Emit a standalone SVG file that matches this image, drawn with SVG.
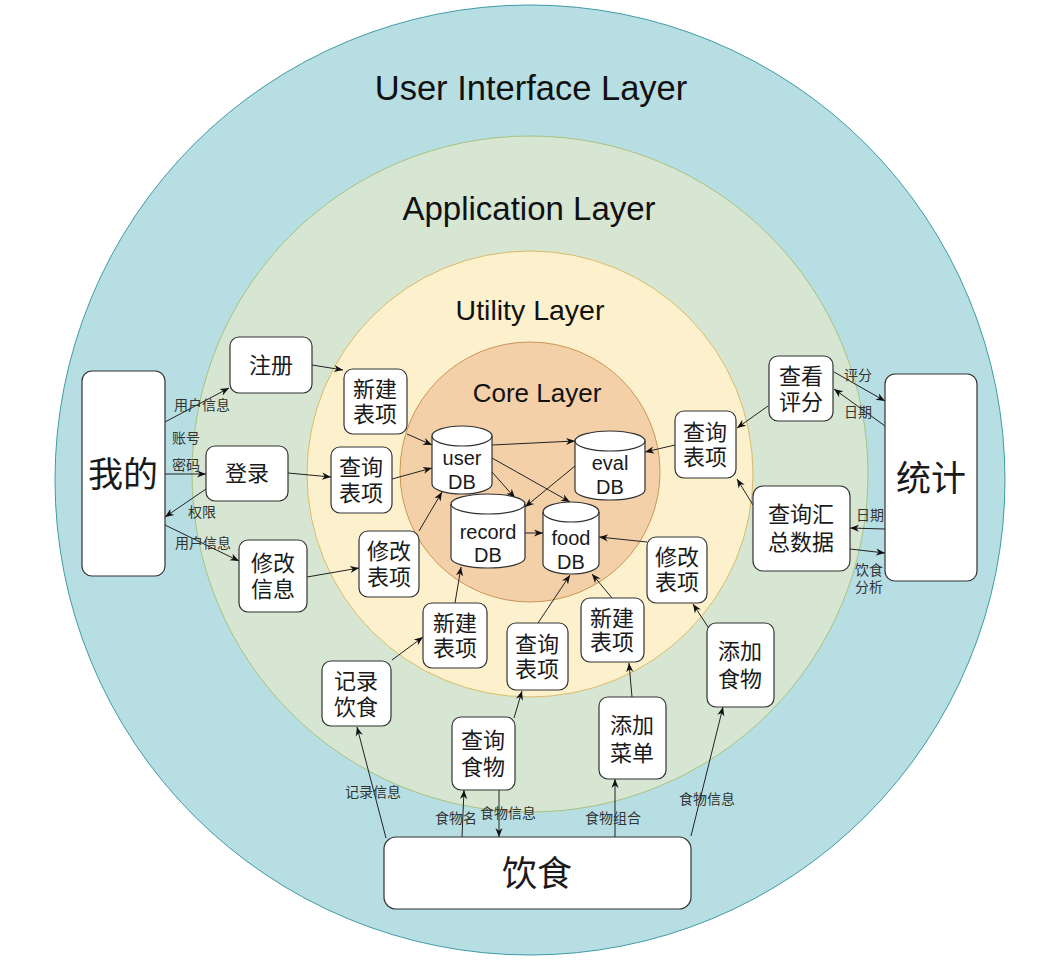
<svg xmlns="http://www.w3.org/2000/svg" width="1048" height="972" viewBox="0 0 1048 972">
<style>
.n{fill:#fff;stroke:#333;stroke-width:1.2}
.a{fill:none;stroke:#333;stroke-width:1.2}
.t{font-family:"Liberation Sans","Noto Sans CJK SC",sans-serif;font-size:22px;fill:#1a1a1a;text-anchor:middle;dominant-baseline:central}
.big{font-size:35px}
.db{font-family:"Liberation Sans",sans-serif;font-size:20px;fill:#1a1a1a;text-anchor:middle;dominant-baseline:central}
.lay{font-family:"Liberation Sans",sans-serif;fill:#111;text-anchor:middle}
.lb{font-family:"Liberation Sans","Noto Sans CJK SC",sans-serif;font-size:14px;fill:#333;text-anchor:middle;dominant-baseline:central}
.c line{stroke:#222;stroke-width:1;marker-end:url(#a)}
</style>
<defs>
<marker id="a" viewBox="0 0 10 10" refX="10" refY="5" markerWidth="9" markerHeight="9" orient="auto" markerUnits="userSpaceOnUse"><path d="M0,1 L10,5 L0,9 L3,5 Z" fill="#111"/></marker>
</defs>
<rect width="1048" height="972" fill="#fff"/>
<g id="layers">
<circle cx="530" cy="480" r="475" fill="#b7dfe3" stroke="#3f9ba6" stroke-width="1"/>
<circle cx="530" cy="474" r="338" fill="#d6e6d3" stroke="#a9c27f" stroke-width="1"/>
<circle cx="530" cy="474" r="223" fill="#fdf1cd" stroke="#d8bb68" stroke-width="1"/>
<circle cx="530" cy="472" r="130" fill="#f3d0a8" stroke="#c99556" stroke-width="1"/>
<text class="lay" x="531" y="100" font-size="34.5">User Interface Layer</text>
<text class="lay" x="529" y="220" font-size="33">Application Layer</text>
<text class="lay" x="530" y="320" font-size="28.5">Utility Layer</text>
<text class="lay" x="537" y="402" font-size="26">Core Layer</text>
</g>
<g id="connectors" class="c">
<line x1="165" y1="422" x2="229" y2="388"/>
<line x1="165" y1="474" x2="206" y2="474"/>
<line x1="206" y1="489" x2="165" y2="517"/>
<line x1="165" y1="525" x2="239" y2="561"/>
<line x1="312" y1="365" x2="343" y2="370"/>
<line x1="288" y1="473" x2="331" y2="477"/>
<line x1="307" y1="577" x2="359" y2="568"/>
<line x1="407" y1="434" x2="432" y2="445"/>
<line x1="392" y1="479" x2="432" y2="468"/>
<line x1="419" y1="531" x2="442" y2="492"/>
<line x1="492" y1="445" x2="575" y2="441"/>
<line x1="492" y1="472" x2="515" y2="498"/>
<line x1="492" y1="458" x2="570" y2="502"/>
<line x1="575" y1="466" x2="525" y2="507"/>
<line x1="525" y1="533" x2="543" y2="533"/>
<line x1="647" y1="542" x2="599" y2="537"/>
<line x1="675" y1="445" x2="645" y2="452"/>
<line x1="768" y1="406" x2="737" y2="428"/>
<line x1="753" y1="505" x2="737" y2="479"/>
<line x1="834" y1="372" x2="885" y2="401"/>
<line x1="885" y1="426" x2="834" y2="389"/>
<line x1="885" y1="529" x2="850" y2="528"/>
<line x1="850" y1="549" x2="885" y2="553"/>
<line x1="392" y1="660" x2="423" y2="637"/>
<line x1="455" y1="603" x2="461" y2="567"/>
<line x1="538" y1="623" x2="570" y2="575"/>
<line x1="612" y1="598" x2="592" y2="574"/>
<line x1="708" y1="627" x2="693" y2="604"/>
<line x1="514" y1="718" x2="522" y2="691"/>
<line x1="632" y1="697" x2="629" y2="663"/>
<line x1="386" y1="838" x2="357" y2="727"/>
<line x1="462" y1="837" x2="464" y2="790"/>
<line x1="499" y1="790" x2="499" y2="837"/>
<line x1="615" y1="837" x2="615" y2="779"/>
<line x1="691" y1="836" x2="723" y2="707"/>
<text class="lb" x="202" y="405">用户信息</text>
<text class="lb" x="186" y="438">账号</text>
<text class="lb" x="186" y="465">密码</text>
<text class="lb" x="202" y="512">权限</text>
<text class="lb" x="203" y="543">用户信息</text>
<text class="lb" x="858" y="375">评分</text>
<text class="lb" x="858" y="412">日期</text>
<text class="lb" x="870" y="515">日期</text>
<text class="lb" x="869" y="570">饮食</text>
<text class="lb" x="869" y="587">分析</text>
<text class="lb" x="373" y="792">记录信息</text>
<text class="lb" x="456" y="818">食物名</text>
<text class="lb" x="508" y="813">食物信息</text>
<text class="lb" x="613" y="818">食物组合</text>
<text class="lb" x="707" y="799">食物信息</text>
</g>
<g id="wode"><rect class="n" x="82" y="371" width="83" height="205" rx="10"/><text class="t big" x="123" y="474">我的</text></g>
<g id="zhuce"><rect class="n" x="230" y="337" width="82" height="56" rx="9"/><text class="t" x="271" y="365">注册</text></g>
<g id="denglu"><rect class="n" x="206" y="446" width="82" height="55" rx="9"/><text class="t" x="247" y="473">登录</text></g>
<g id="xiugaixinxi"><rect class="n" x="239" y="540" width="68" height="72" rx="9"/><text class="t" x="273" y="563">修改</text><text class="t" x="273" y="589">信息</text></g>
<g id="xinjian1"><rect class="n" x="344" y="369" width="63" height="65" rx="9"/><text class="t" x="375" y="389">新建</text><text class="t" x="375" y="414">表项</text></g>
<g id="chaxun1"><rect class="n" x="331" y="447" width="61" height="66" rx="9"/><text class="t" x="361" y="467">查询</text><text class="t" x="361" y="493">表项</text></g>
<g id="xiugai1"><rect class="n" x="359" y="531" width="60" height="66" rx="9"/><text class="t" x="389" y="551">修改</text><text class="t" x="389" y="577">表项</text></g>
<g id="userdb"><path class="n" d="M432,436 A30,10 0 0 1 492,436 V484 A30,10 0 0 1 432,484 Z"/><path class="a" d="M432,436 A30,10 0 0 0 492,436"/><text class="db" x="462" y="458">user</text><text class="db" x="462" y="482">DB</text></g>
<g id="evaldb"><path class="n" d="M575,441 A35,10 0 0 1 645,441 V490 A35,10 0 0 1 575,490 Z"/><path class="a" d="M575,441 A35,10 0 0 0 645,441"/><text class="db" x="610" y="463">eval</text><text class="db" x="610" y="487">DB</text></g>
<g id="recorddb"><path class="n" d="M451,504 A37,10 0 0 1 525,504 V558 A37,10 0 0 1 451,558 Z"/><path class="a" d="M451,504 A37,10 0 0 0 525,504"/><text class="db" x="488" y="532">record</text><text class="db" x="488" y="555">DB</text></g>
<g id="fooddb"><path class="n" d="M543,512 A28,10 0 0 1 599,512 V564 A28,10 0 0 1 543,564 Z"/><path class="a" d="M543,512 A28,10 0 0 0 599,512"/><text class="db" x="571" y="538">food</text><text class="db" x="571" y="562">DB</text></g>
<g id="chakanpingfen"><rect class="n" x="769" y="356" width="64" height="65" rx="9"/><text class="t" x="801" y="376">查看</text><text class="t" x="801" y="402">评分</text></g>
<g id="chaxun2"><rect class="n" x="675" y="411" width="61" height="67" rx="9"/><text class="t" x="705" y="432">查询</text><text class="t" x="705" y="457">表项</text></g>
<g id="huizong"><rect class="n" x="753" y="486" width="97" height="85" rx="10"/><text class="t" x="801" y="514">查询汇</text><text class="t" x="801" y="542">总数据</text></g>
<g id="tongji"><rect class="n" x="885" y="374" width="92" height="207" rx="10"/><text class="t big" x="931" y="478">统计</text></g>
<g id="xiugai2"><rect class="n" x="647" y="537" width="60" height="66" rx="9"/><text class="t" x="677" y="557">修改</text><text class="t" x="677" y="582">表项</text></g>
<g id="xinjian2"><rect class="n" x="423" y="603" width="64" height="65" rx="9"/><text class="t" x="455" y="623">新建</text><text class="t" x="455" y="648">表项</text></g>
<g id="chaxun3"><rect class="n" x="507" y="623" width="61" height="67" rx="9"/><text class="t" x="537" y="644">查询</text><text class="t" x="537" y="669">表项</text></g>
<g id="xinjian3"><rect class="n" x="581" y="598" width="63" height="64" rx="9"/><text class="t" x="612" y="618">新建</text><text class="t" x="612" y="642">表项</text></g>
<g id="jiluyinshi"><rect class="n" x="322" y="661" width="69" height="65" rx="9"/><text class="t" x="356" y="681">记录</text><text class="t" x="356" y="707">饮食</text></g>
<g id="chaxunshiwu"><rect class="n" x="452" y="717" width="63" height="73" rx="9"/><text class="t" x="483" y="740">查询</text><text class="t" x="483" y="767">食物</text></g>
<g id="tianjiacaidan"><rect class="n" x="599" y="697" width="67" height="82" rx="9"/><text class="t" x="632" y="725">添加</text><text class="t" x="632" y="753">菜单</text></g>
<g id="tianjiashiwu"><rect class="n" x="707" y="623" width="67" height="84" rx="9"/><text class="t" x="740" y="651">添加</text><text class="t" x="740" y="679">食物</text></g>
<g id="yinshi"><rect class="n" x="384" y="837" width="307" height="72" rx="12"/><text class="t big" x="537" y="873">饮食</text></g>
</svg>
